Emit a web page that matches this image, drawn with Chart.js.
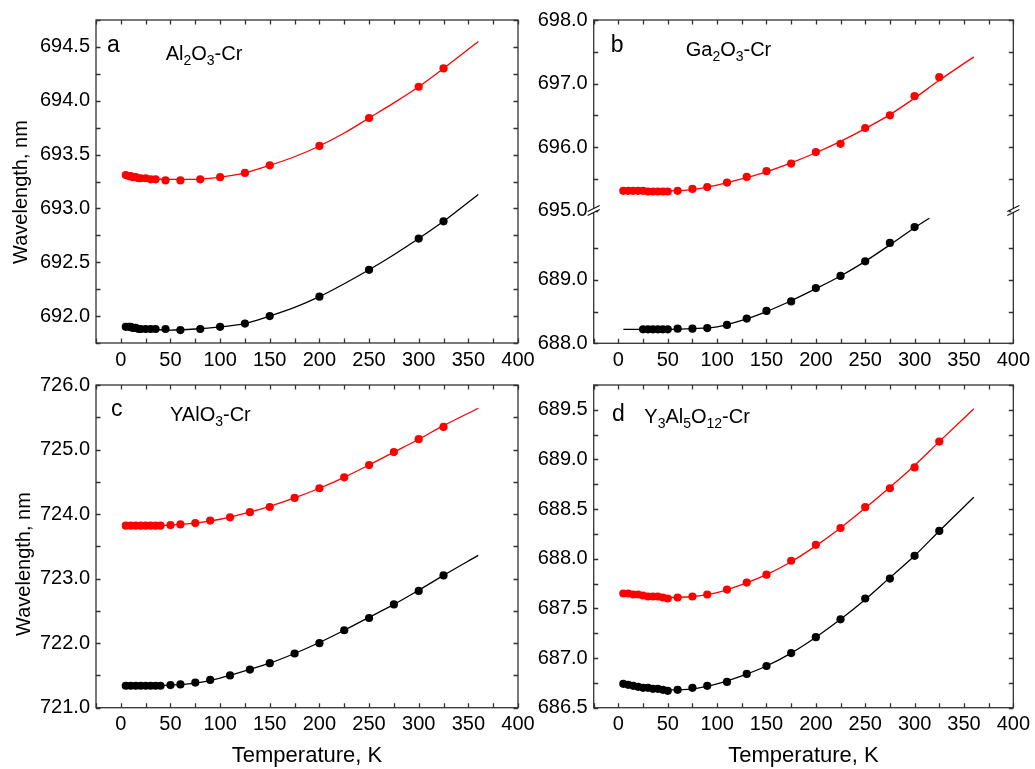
<!DOCTYPE html>
<html><head><meta charset="utf-8">
<script src="https://cdn.jsdelivr.net/npm/chart.js@4.4.1/dist/chart.umd.min.js"></script>
<style>
html,body{margin:0;padding:0;background:#fff;}
#wrap{position:relative;width:1035px;height:769px;overflow:hidden;background:#fff;}
canvas{position:absolute;}
</style></head><body>
<div id="wrap">
<canvas id="ca" width="540" height="385" style="left:0px;top:0px"></canvas>
<canvas id="cb" width="535" height="385" style="left:500px;top:0px"></canvas>
<canvas id="cc" width="540" height="404" style="left:0px;top:365px"></canvas>
<canvas id="cd" width="535" height="404" style="left:500px;top:365px"></canvas>
</div>
<script>
// ---------- shared ----------
const xTicks = [0, 50, 100, 150, 200, 250, 300, 350, 400];
const xTitle = 'Temperature, K';
const yTitle = 'Wavelength, nm';

// ---------- panel a: Al2O3-Cr ----------
const aT = [5, 8, 10, 12, 15, 18, 20, 25, 30, 35, 45, 60, 80, 100, 125, 150, 200, 250, 300, 325];
const aRed = [693.31, 693.30, 693.30, 693.29, 693.29, 693.28, 693.28, 693.28, 693.27, 693.27, 693.26, 693.26, 693.27, 693.29, 693.33, 693.40, 693.58, 693.84, 694.13, 694.30];
const aBlack = [691.90, 691.90, 691.90, 691.89, 691.89, 691.88, 691.88, 691.88, 691.88, 691.88, 691.88, 691.87, 691.88, 691.90, 691.93, 692.00, 692.18, 692.43, 692.72, 692.88];
const aFitT = [5, 25, 50, 75, 100, 125, 150, 175, 200, 225, 250, 275, 300, 325, 360];
const aFitRed = [693.31, 693.28, 693.27, 693.27, 693.29, 693.33, 693.40, 693.48, 693.58, 693.70, 693.84, 693.98, 694.13, 694.30, 694.55];
const aFitBlack = [691.90, 691.88, 691.87, 691.88, 691.90, 691.93, 692.00, 692.08, 692.18, 692.30, 692.43, 692.57, 692.72, 692.88, 693.13];
const aYTicks = [692.0, 692.5, 693.0, 693.5, 694.0, 694.5];

// ---------- panel b: Ga2O3-Cr ----------
const bRedT = [5, 10, 15, 20, 25, 30, 35, 40, 45, 50, 60, 75, 90, 110, 130, 150, 175, 200, 225, 250, 275, 300, 325];
const bRed = [695.31, 695.31, 695.31, 695.31, 695.31, 695.30, 695.30, 695.30, 695.30, 695.30, 695.31, 695.34, 695.37, 695.44, 695.53, 695.62, 695.74, 695.92, 696.05, 696.30, 696.50, 696.80, 697.10];
const bBlackT = [25, 30, 35, 40, 45, 50, 60, 75, 90, 110, 130, 150, 175, 200, 225, 250, 275, 300];
const bBlack = [688.22, 688.22, 688.22, 688.22, 688.22, 688.22, 688.23, 688.23, 688.24, 688.29, 688.39, 688.51, 688.66, 688.87, 689.06, 689.29, 689.58, 689.83];
const bFitRedT = [5, 25, 50, 75, 100, 125, 150, 175, 200, 225, 250, 275, 300, 325, 360];
const bFitRed = [695.31, 695.31, 695.31, 695.33, 695.40, 695.50, 695.61, 695.75, 695.91, 696.09, 696.29, 696.51, 696.77, 697.05, 697.42];
const bFitBlackT = [5, 25, 50, 75, 100, 125, 150, 175, 200, 225, 250, 275, 300, 315];
const bFitBlack = [688.22, 688.22, 688.22, 688.23, 688.26, 688.36, 688.50, 688.67, 688.86, 689.06, 689.29, 689.55, 689.82, 689.97];
const bHighTicks = [695.0, 696.0, 697.0, 698.0];
const bLowTicks = [688.0, 689.0];

// ---------- panel c: YAlO3-Cr ----------
const cT = [5, 10, 15, 20, 25, 30, 35, 40, 50, 60, 75, 90, 110, 130, 150, 175, 200, 225, 250, 275, 300, 325];
const cRed = [723.82, 723.82, 723.82, 723.82, 723.82, 723.82, 723.82, 723.82, 723.83, 723.84, 723.86, 723.90, 723.95, 724.03, 724.11, 724.25, 724.40, 724.57, 724.76, 724.96, 725.16, 725.35];
const cBlack = [721.34, 721.34, 721.34, 721.34, 721.34, 721.34, 721.34, 721.34, 721.35, 721.36, 721.39, 721.43, 721.50, 721.59, 721.69, 721.84, 722.00, 722.20, 722.39, 722.60, 722.81, 723.05];
const cFitT = [5, 25, 50, 75, 100, 125, 150, 175, 200, 225, 250, 275, 300, 325, 360];
const cFitRed = [723.82, 723.82, 723.83, 723.86, 723.92, 724.01, 724.12, 724.25, 724.40, 724.57, 724.76, 724.96, 725.16, 725.37, 725.64];
const cFitBlack = [721.34, 721.34, 721.35, 721.38, 721.46, 721.57, 721.69, 721.84, 722.01, 722.20, 722.40, 722.60, 722.82, 723.05, 723.36];
const cYTicks = [721.0, 722.0, 723.0, 724.0, 725.0, 726.0];

// ---------- panel d: Y3Al5O12-Cr ----------
const dT = [5, 10, 15, 20, 25, 30, 35, 40, 45, 50, 60, 75, 90, 110, 130, 150, 175, 200, 225, 250, 275, 300, 325];
const dRed = [687.65, 687.65, 687.64, 687.64, 687.63, 687.62, 687.62, 687.62, 687.61, 687.60, 687.61, 687.62, 687.64, 687.69, 687.76, 687.84, 687.98, 688.14, 688.31, 688.52, 688.71, 688.92, 689.18];
const dBlack = [686.74, 686.73, 686.72, 686.71, 686.70, 686.70, 686.69, 686.69, 686.68, 686.67, 686.68, 686.70, 686.72, 686.76, 686.84, 686.92, 687.05, 687.21, 687.39, 687.60, 687.80, 688.03, 688.28];
const dFitT = [5, 25, 50, 75, 100, 125, 150, 175, 200, 225, 250, 275, 300, 325, 360];
const dFitRed = [687.65, 687.63, 687.61, 687.62, 687.66, 687.74, 687.84, 687.97, 688.13, 688.31, 688.51, 688.72, 688.94, 689.18, 689.51];
const dFitBlack = [686.74, 686.71, 686.68, 686.69, 686.74, 686.82, 686.92, 687.05, 687.21, 687.39, 687.59, 687.81, 688.03, 688.28, 688.62];
const dYTicks = [686.5, 687.0, 687.5, 688.0, 688.5, 689.0, 689.5];

// panel labels and sample names (subscript parts flagged)
const panelLetters = ['a', 'b', 'c', 'd'];
const sampleNames = [
  [['Al'], ['2', 1], ['O'], ['3', 1], ['-Cr']],
  [['Ga'], ['2', 1], ['O'], ['3', 1], ['-Cr']],
  [['YAlO'], ['3', 1], ['-Cr']],
  [['Y'], ['3', 1], ['Al'], ['5', 1], ['O'], ['12', 1], ['-Cr']]
];

// ---------- rendering ----------
const FONT = "'Liberation Sans', Arial, Helvetica, sans-serif";
Chart.defaults.font.family = FONT;
Chart.defaults.color = '#000';
const RED = '#ff0000', BLACK = '#000000';
const xy = (T, V) => T.map((t, i) => ({x: t, y: V[i]}));

function pts(T, V, color, yID) {
  return {data: xy(T, V), showLine: false, pointRadius: 4.1, pointHoverRadius: 4.1,
    pointBackgroundColor: color, pointBorderWidth: 0, borderColor: color, yAxisID: yID};
}
function fit(T, V, color, yID) {
  return {data: xy(T, V), showLine: true, pointRadius: 0, borderColor: color,
    borderWidth: 1.3, tension: 0.4, cubicInterpolationMode: 'monotone', yAxisID: yID};
}

const framePlugin = {
  id: 'frame',
  afterDraw(chart) {
    const o = chart.options.plugins.frame;
    const {ctx} = chart;
    const {left, top, right, bottom} = chart.chartArea;
    ctx.save();
    ctx.strokeStyle = '#333';
    ctx.lineWidth = 1.3;
    ctx.strokeRect(left, top, right - left, bottom - top);
    const L = 4.5;
    ctx.beginPath();
    const xs = chart.scales.x;
    for (let v = xs.min; v <= xs.max + 1e-9; v += o.xMinor) {
      const p = Math.round(xs.getPixelForValue(v)) + 0.5;
      ctx.moveTo(p, bottom); ctx.lineTo(p, bottom - L);
      ctx.moveTo(p, top); ctx.lineTo(p, top + L);
    }
    for (const ys of o.yMinor) {
      const s = chart.scales[ys.id];
      for (let v = ys.from; v <= ys.to + 1e-9; v += ys.step) {
        const p = Math.round(s.getPixelForValue(v)) + 0.5;
        ctx.moveTo(left, p); ctx.lineTo(left + L, p);
        ctx.moveTo(right, p); ctx.lineTo(right - L, p);
      }
    }
    ctx.stroke();
    // axis break
    if (o.brk) {
      const yA = chart.scales[o.brk.hi].getPixelForValue(o.brk.hiMin);
      const yB = chart.scales[o.brk.lo].getPixelForValue(o.brk.loMax);
      const ym = (yA + yB) / 2;
      for (const x of [left, right]) {
        ctx.fillStyle = '#fff';
        ctx.fillRect(x - 2, ym - 2, 4, 4);
        ctx.beginPath();
        for (const d of [-2, 2]) {
          ctx.moveTo(x - 6, ym + d + 3);
          ctx.lineTo(x + 6, ym + d - 3);
        }
        ctx.lineWidth = 1.2;
        ctx.strokeStyle = '#111';
        ctx.stroke();
      }
    }
    // labels
    ctx.fillStyle = '#000';
    ctx.textBaseline = 'alphabetic';
    ctx.textAlign = 'left';
    ctx.font = '23px ' + FONT;
    ctx.fillText(o.letter, o.letterX, o.letterY);
    let x = o.nameX;
    for (const part of o.name) {
      const sub = part[1];
      ctx.font = (sub ? '14px ' : '20px ') + FONT;
      ctx.fillText(part[0], x, o.nameY + (sub ? 5 : 0));
      x += ctx.measureText(part[0]).width;
    }
    if (o.yTitle) {
      ctx.save();
      ctx.translate(o.yTitleX, o.yTitleY);
      ctx.rotate(-Math.PI / 2);
      ctx.textAlign = 'center';
      ctx.textBaseline = 'alphabetic';
      ctx.font = '20px ' + FONT;
      ctx.fillText(yTitle, 0, 0);
      ctx.restore();
    }
    ctx.restore();
  }
};

function yScale(ticksArr, min, max, width, extra) {
  return Object.assign({
    type: 'linear', axis: 'y', position: 'left', min: min, max: max,
    grid: {display: false, drawTicks: false}, border: {display: false},
    ticks: {font: {size: 20}, color: '#000', padding: 6, callback: v => Number(v).toFixed(1)},
    afterBuildTicks: s => { s.ticks = ticksArr.map(v => ({value: v})); },
    afterFit: s => { s.width = width; }
  }, extra || {});
}
function xScale(height, withTitle) {
  return {
    type: 'linear', position: 'bottom', min: -25, max: 400,
    grid: {display: false, drawTicks: false}, border: {display: false},
    ticks: {font: {size: 20}, color: '#000', padding: 5, maxRotation: 0, autoSkip: false, callback: v => String(v)},
    afterBuildTicks: s => { s.ticks = xTicks.map(v => ({value: v})); },
    afterFit: s => { s.height = height; },
    title: {display: withTitle, text: xTitle, color: '#000', font: {size: 22}, padding: {top: 0, bottom: 0}}
  };
}

function makeChart(id, datasets, scales, padRight, frameOpts) {
  return new Chart(document.getElementById(id), {
    type: 'scatter',
    data: {datasets: datasets},
    options: {
      responsive: false, animation: false, events: [],
      layout: {padding: {left: 0, top: 20, right: padRight, bottom: 0}},
      plugins: {legend: {display: false}, tooltip: {enabled: false}, frame: frameOpts},
      scales: scales
    },
    plugins: [framePlugin]
  });
}

// panel a
makeChart('ca', [
  pts(aT, aRed, RED, 'y'), pts(aT, aBlack, BLACK, 'y'),
  fit(aFitT, aFitRed, RED, 'y'), fit(aFitT, aFitBlack, BLACK, 'y')
], {
  x: xScale(42, false),
  y: yScale(aYTicks, 691.75, 694.75, 96)
}, 22, {
  xMinor: 25, yMinor: [{id: 'y', from: 691.75, to: 694.75, step: 0.25}],
  letter: panelLetters[0], letterX: 107, letterY: 52, name: sampleNames[0], nameX: 165.7, nameY: 60,
  yTitle: true, yTitleX: 27, yTitleY: 192
});

// panel b (broken axis: two stacked y scales; the first listed is placed at the bottom)
makeChart('cb', [
  pts(bRedT, bRed, RED, 'yHigh'), pts(bBlackT, bBlack, BLACK, 'yLow'),
  fit(bFitRedT, bFitRed, RED, 'yHigh'), fit(bFitBlackT, bFitBlack, BLACK, 'yLow')
], {
  x: xScale(41.7, false),
  yLow: yScale(bLowTicks, 688, 690.09, 93.7, {stack: 'brk', stackWeight: 2.09}),
  yHigh: yScale(bHighTicks, 695, 698, 93.7, {stack: 'brk', stackWeight: 3})
}, 18.3, {
  xMinor: 25,
  yMinor: [{id: 'yHigh', from: 695, to: 698, step: 0.5}, {id: 'yLow', from: 688, to: 689.5, step: 0.5}],
  brk: {hi: 'yHigh', hiMin: 695, lo: 'yLow', loMax: 690.09},
  letter: panelLetters[1], letterX: 110.7, letterY: 52.3, name: sampleNames[1], nameX: 185.7, nameY: 55.7,
  yTitle: false
});

// panel c
makeChart('cc', [
  pts(cT, cRed, RED, 'y'), pts(cT, cBlack, BLACK, 'y'),
  fit(cFitT, cFitRed, RED, 'y'), fit(cFitT, cFitBlack, BLACK, 'y')
], {
  x: xScale(61.3, true),
  y: yScale(cYTicks, 721, 726, 96)
}, 22, {
  xMinor: 25, yMinor: [{id: 'y', from: 721, to: 726, step: 0.5}],
  letter: panelLetters[2], letterX: 111, letterY: 51, name: sampleNames[2], nameX: 170, nameY: 56,
  yTitle: true, yTitleX: 30, yTitleY: 199
});

// panel d
makeChart('cd', [
  pts(dT, dRed, RED, 'y'), pts(dT, dBlack, BLACK, 'y'),
  fit(dFitT, dFitRed, RED, 'y'), fit(dFitT, dFitBlack, BLACK, 'y')
], {
  x: xScale(61.3, true),
  y: yScale(dYTicks, 686.5, 689.75, 93.7)
}, 18.3, {
  xMinor: 25, yMinor: [{id: 'y', from: 686.5, to: 689.75, step: 0.25}],
  letter: panelLetters[3], letterX: 112, letterY: 55.7, name: sampleNames[3], nameX: 144.3, nameY: 58.3,
  yTitle: false
});
</script>
</body></html>
